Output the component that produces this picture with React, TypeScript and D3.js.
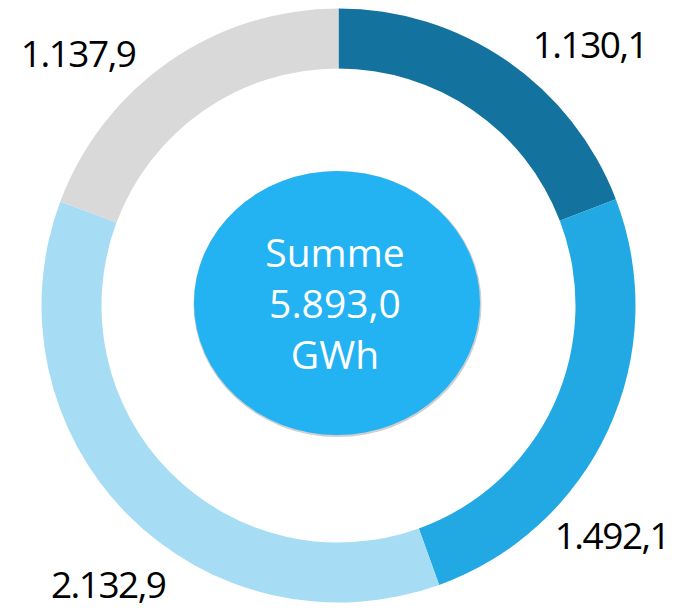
import React from "react";
import * as d3 from "d3";

// Stromerzeugung je Kategorie (GWh)
const categories = ["A", "B", "C", "D"];
const values = [1130.1, 1492.1, 2132.9, 1137.9];
const colors = ["#13729E", "#22A9E3", "#A7DDF4", "#D9D9D9"];
const centerLines = ["Summe", null, "GWh"];

const W = 674;
const H = 611;

const de = d3.formatLocale({
  decimal: ",",
  thousands: ".",
  grouping: [3],
  currency: ["", " €"],
});
const fmt = de.format(",.1f");

const App = () => {
  const cx = 338.5;
  const cy = 305.5;
  const outerR = 297;
  const innerR = 237;
  const labelR = 362;

  const pie = d3
    .pie<number>()
    .sort(null)
    .value((d) => d)
    .startAngle(0)
    .endAngle(2 * Math.PI);
  const arcs = pie(values);

  const arc = d3
    .arc<d3.PieArcDatum<number>>()
    .innerRadius(innerR)
    .outerRadius(outerR);

  const total = d3.sum(values);

  // labels sit near the quadrant diagonal of each slice, outside the ring
  const labelPos = (a: d3.PieArcDatum<number>) => {
    const mid = (a.startAngle + a.endAngle) / 2;
    const q = Math.floor(mid / (Math.PI / 2));
    const bottom = q === 1 || q === 2;
    const shift = ((bottom ? 5.5 : 1) * Math.PI) / 180;
    const ang = q * (Math.PI / 2) + Math.PI / 4 - shift;
    let x = cx + labelR * Math.sin(ang);
    let y = cy - labelR * Math.cos(ang);
    x = Math.max(62, Math.min(W - 62, x));
    y = Math.max(30, Math.min(H - 18, y));
    return [x, y];
  };

  const lines = centerLines.map((l) => (l === null ? fmt(total) : l));

  return (
    <div style={{ position: "absolute", left: 0, top: 0 }}>
      <svg width={W} height={H} style={{ display: "block", background: "#fff" }}>
        <g transform={`translate(${cx},${cy})`}>
          {arcs.map((a, i) => (
            <path key={categories[i]} d={arc(a) || ""} fill={colors[i]} />
          ))}
        </g>
        {arcs.map((a, i) => {
          const [x, y] = labelPos(a);
          return (
            <text
              key={"l" + categories[i]}
              x={x}
              y={y}
              dy="0.36em"
              textAnchor="middle"
              fontFamily="'Segoe UI', 'Open Sans', sans-serif"
              fontSize={37}
              letterSpacing={-1.5}
              fill="#000"
            >
              {fmt(a.data)}
            </text>
          );
        })}
        <ellipse cx={337.5} cy={304} rx={144} ry={133} fill="#cfcfcf" />
        <ellipse cx={337} cy={303} rx={143} ry={132} fill="#23B3F2" />
        {lines.map((l, i) => (
          <text
            key={"c" + i}
            x={335}
            y={267 + i * 51}
            textAnchor="middle"
            fontFamily="'Segoe UI', 'Open Sans', sans-serif"
            fontSize={39}
            fill="#fff"
          >
            {l}
          </text>
        ))}
      </svg>
    </div>
  );
};

export default App;
